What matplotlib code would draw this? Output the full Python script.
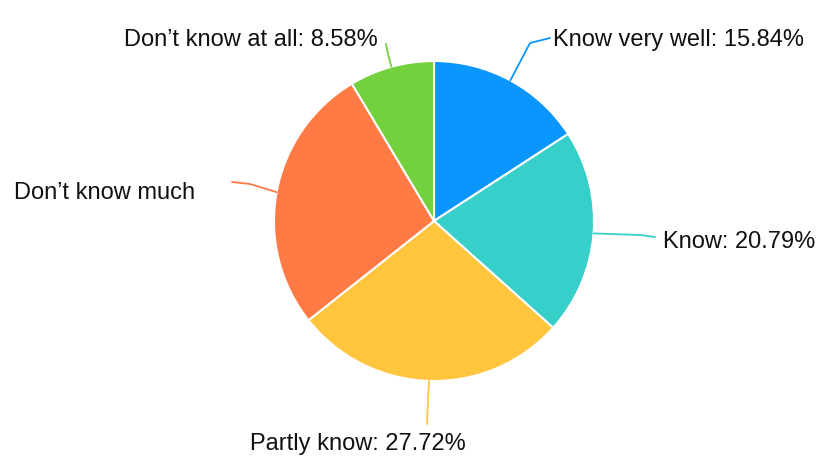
import matplotlib
matplotlib.use('Agg')
import matplotlib.pyplot as plt
import numpy as np

labels = ["Know very well", "Know", "Partly know", "Don\u2019t know much", "Don\u2019t know at all"]
values = [15.84, 20.79, 27.72, 27.07, 8.58]
show_pct = [True, True, True, False, True]
colors = ["#0a96fc", "#36cfc9", "#ffc53d", "#ff7a45", "#73d13d"]

plt.rcParams['font.family'] = ['Liberation Sans', 'DejaVu Sans']

fig = plt.figure(figsize=(8.2, 4.6), dpi=100)
ax = fig.add_axes([0, 0, 1, 1])
ax.set_xlim(0, 820)
ax.set_ylim(0, 460)
ax.axis('off')

cx, cy, r = 434, 238, 160
wedges, _ = ax.pie(values, colors=colors, startangle=90, counterclock=False,
                   center=(cx, cy), radius=r, frame=True,
                   wedgeprops=dict(edgecolor='white', linewidth=1.5))
ax.set_xlim(0, 820)
ax.set_ylim(0, 460)
ax.set_aspect('equal')
ax.axis('off')

# leader line: bend point offset, end point, text anchor
guides = [
    ((530, 416), (550, 421), (553, 420), 'left'),
    ((640, 224), (655, 222), (663, 218), 'left'),
    ((428, 60), (427, 35), (358, 16), 'center'),
    ((250, 275), (232, 277), (195, 267), 'right'),
    ((388, 405), (386, 415), (378, 420), 'right'),
]

for w, lab, v, sp, c, g in zip(wedges, labels, values, show_pct, colors, guides):
    ang = np.deg2rad((w.theta1 + w.theta2) / 2)
    x0 = cx + r * np.cos(ang)
    y0 = cy + r * np.sin(ang)
    (bx, by), (ex, ey), (tx, ty), ha = g
    ax.plot([x0, bx, ex], [y0, by, ey], color=c, lw=1.3, solid_capstyle='round')
    txt = '%s: %.2f%%' % (lab, v) if sp else lab
    ax.text(tx, ty, txt, ha=ha, va='center', fontsize=17, color='#111111')

fig.savefig("out.png", dpi=100)
